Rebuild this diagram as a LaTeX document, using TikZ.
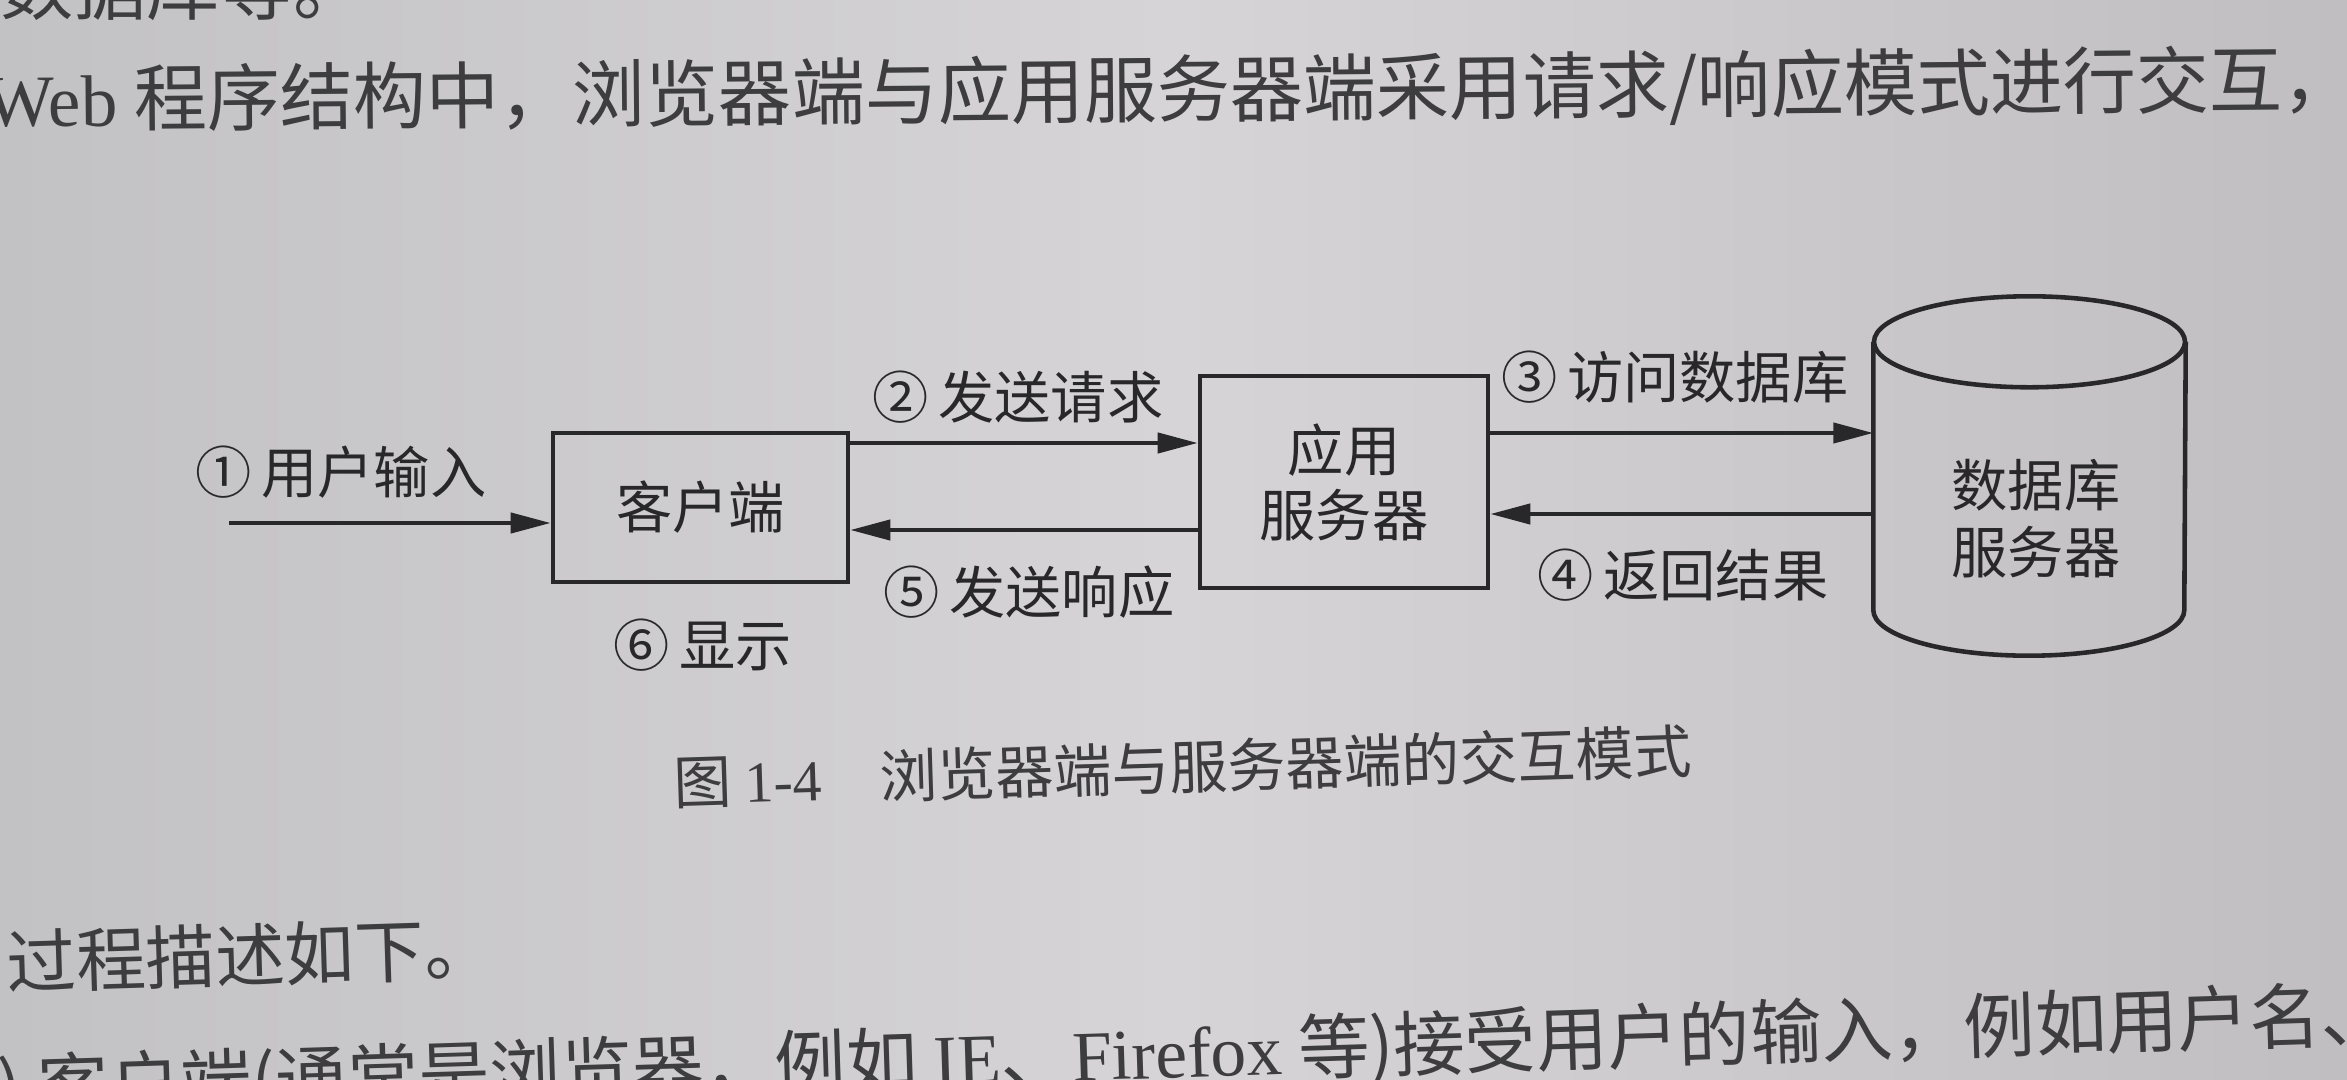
\documentclass[tikz,border=0pt]{standalone}
\usepackage{fontspec}
\setmainfont{Liberation Serif}
\newfontfamily\cjk{Noto Sans CJK SC}
\usetikzlibrary{arrows.meta}
\definecolor{paperL}{RGB}{194,193,196}
\definecolor{paperM}{RGB}{214,212,214}
\definecolor{paperR}{RGB}{192,190,193}
\definecolor{ink}{RGB}{40,40,42}

\begin{document}
\begin{tikzpicture}[
  box/.style={draw=ink, line width=1.3pt, align=center, text=ink,
    font=\cjk\fontsize{16pt}{18.5pt}\selectfont},
  lbl/.style={text=ink, inner sep=0pt, font=\cjk\fontsize{16pt}{19pt}\selectfont},
  arr/.style={draw=ink, line width=1.2pt, -{Triangle[length=4mm,width=2mm]}},
  body/.style={text=ink!90, inner sep=0pt, anchor=base west,
    font=\cjk\fontsize{20.8pt}{24pt}\selectfont}
]
  \useasboundingbox (0cm,0cm) rectangle (23.47cm,-10.80cm);
  \clip (0cm,0cm) rectangle (23.47cm,-10.80cm);
  \shade[left color=paperL, right color=paperR, middle color=paperM] (0cm,0cm) rectangle (23.47cm,-10.80cm);

  % page text
  \node[body] (prev) at (0cm,-0.15cm) {数据库等。};
  \node[body, rotate=0.5] (head) at (-0.15cm,-1.27cm) {{\rmfamily Web} 程序结构中，浏览器端与应用服务器端采用请求/响应模式进行交互，};

  % figure
  \node[box, minimum width=2.95cm, minimum height=1.49cm] (client) at (7.005cm,-5.075cm) {客户端};
  \node[box, minimum width=2.88cm, minimum height=2.12cm] (app) at (13.44cm,-4.82cm) {应用\\服务器};
  \node[minimum width=3.11cm, minimum height=2.67cm, inner sep=0pt] (db) at (20.295cm,-4.76cm) {};
  \draw[ink, line width=1.3pt] (db.north west) -- (db.south west)
    arc[start angle=180, end angle=360, x radius=1.555cm, y radius=0.455cm] -- (db.north east);
  \draw[ink, line width=1.3pt] (db.north) ellipse [x radius=1.555cm, y radius=0.455cm];
  \node[lbl, align=center] (dbname) at (20.36cm,-5.19cm) {数据库\\服务器};

  \coordinate (input) at (2.29cm,-5.23cm);
  \draw[arr] (input) -- (input -| client.west);
  \draw[arr] (client.east |- 0,-4.43cm) -- (app.west |- 0,-4.43cm);
  \draw[arr] (app.west |- 0,-5.30cm) -- (client.east |- 0,-5.30cm);
  \draw[arr] (app.east |- 0,-4.33cm) -- (db.west |- 0,-4.33cm);
  \draw[arr] (db.west |- 0,-5.14cm) -- (app.east |- 0,-5.14cm);

  \node[lbl] (l1) at (3.41cm,-4.72cm) {①\,用户输入};
  \node[lbl] (l2) at (10.18cm,-3.97cm) {②\,发送请求};
  \node[lbl] (l3) at (16.75cm,-3.77cm) {③\,访问数据库};
  \node[lbl] (l4) at (16.83cm,-5.75cm) {④\,返回结果};
  \node[lbl] (l5) at (10.29cm,-5.92cm) {⑤\,发送响应};
  \node[lbl] (l6) at (7.03cm,-6.45cm) {⑥\,显示};

  % caption and following text
  \node[body, rotate=1.8, font=\cjk\fontsize{16.5pt}{20pt}\selectfont] (caption) at (6.74cm,-8.05cm) {图 {\rmfamily 1-4}\quad 浏览器端与服务器端的交互模式};
  \node[body, rotate=1.8, font=\cjk\fontsize{19.8pt}{24pt}\selectfont] (intro) at (0.07cm,-9.89cm) {过程描述如下。};
  \node[body, rotate=1.8, font=\cjk\fontsize{20.3pt}{24pt}\selectfont] (step) at (-0.02cm,-11.15cm) {) 客户端(通常是浏览器，例如 {\rmfamily IE}、{\rmfamily Firefox} 等)接受用户的输入，例如用户名、};
\end{tikzpicture}
\end{document}
